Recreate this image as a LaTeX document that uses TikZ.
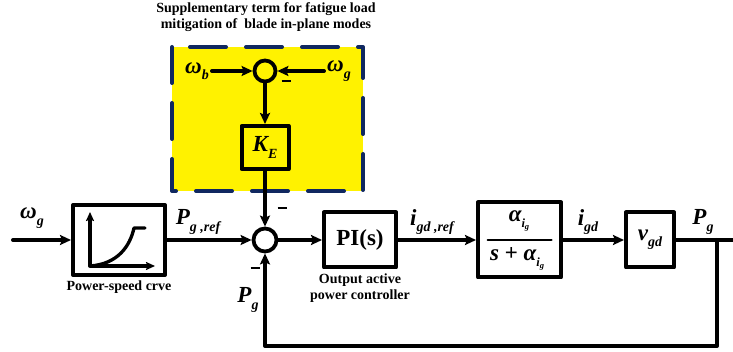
\documentclass[tikz,border=0pt]{standalone}
\usepackage{fontspec}
\setmainfont{Liberation Serif}
\usepackage{xcolor}
\usetikzlibrary{positioning,arrows.meta}
\definecolor{navyline}{RGB}{16,40,96}
\newcommand{\bi}[1]{\textbf{\textit{#1}}}
\newcommand{\sbx}[1]{\raisebox{-0.6ex}{\fontsize{14}{14}\selectfont\bi{#1}}}
\newcommand{\aig}{\bi{α}\raisebox{-0.55ex}{\fontsize{12.5}{12}\selectfont\bi{i}\raisebox{-0.45ex}{\fontsize{8.5}{8}\selectfont\bi{g}}}}
\begin{document}
\begin{tikzpicture}[x=1pt,y=-1pt,line join=round,line cap=round,>={Stealth[length=11pt,width=10pt,inset=2pt]},
		blk/.style={draw,line width=4pt,inner sep=0pt},
		junc/.style={draw,circle,line width=3.8pt,minimum size=21pt,inner sep=0pt},
		sig/.style={line width=4pt},
		lbl/.style={font=\fontsize{23}{24}\selectfont\bfseries\itshape,inner sep=0pt},
		capt/.style={font=\fontsize{14}{16}\selectfont\bfseries,align=center,inner sep=0pt},
		mns/.style={inner sep=0pt}]
			\useasboundingbox (0,0) rectangle (733,352);
			
			\fill[yellow] (172,47) rectangle (363,191);
			\draw[navyline,line width=4pt,dash pattern=on 36pt off 20pt] (172,47) rectangle (363,191);
			\node[capt] (title) at (266,17) {Supplementary term for fatigue load\\mitigation of~ blade in-plane modes};
			
			\node[junc] (sumB) at (265,71) {};
			\node[lbl] (wb) at (197,71) {ω\sbx{b}};
			\node[lbl] (wgB) at (339,71) {ω\sbx{g}};
			\node[mns] (mB) at (286,81) {\rule{9pt}{2.8pt}};
			\node[blk,lbl,minimum width=47pt,minimum height=43pt] (ke) at (265,147.5) {K\sbx{E}};
			
			\draw[sig,->,shorten <=3pt] (wb) -- (sumB);
			\draw[sig,->,shorten <=3pt] (wgB) -- (sumB);
			\draw[sig,->] (sumB) -- (ke);
			
			\coordinate (in) at (13,240);
			\node[blk,minimum width=92pt,minimum height=70pt] (psc) at (119,240) {};
			\node[capt,below=4pt of psc] (psclbl) {Power-speed crve};
			\node[junc,minimum size=23pt] (sumA) at (265,240) {};
			\node[blk,font=\fontsize{23}{24}\selectfont\bfseries,minimum width=72pt,minimum height=55pt] (pi) at (360,240) {PI(s)};
			\node[capt,below=4pt of pi] (pilbl) {Output active\\power controller};
			\node[blk,minimum width=83pt,minimum height=75pt] (tf) at (519.5,240) {};
			\node[lbl] (tfnum) at (519,221) {\aig};
			\node[lbl] (tfden) at (517,259) {s + \aig};
			\node[blk,lbl,minimum width=48pt,minimum height=55pt] (vgd) at (650,240) {v\sbx{gd}};
			\coordinate (tap) at (717,240);
			\coordinate (out) at (733,240);
			\coordinate (fbR) at (717,346);
			\coordinate (fbL) at (265,346);
			
			\draw[line width=2pt] ([xshift=-32pt]tf.center) -- ([xshift=32pt]tf.center);
			\draw[line width=3.3pt,<->,>={Stealth[length=9pt,width=8pt,inset=1.5pt]}] (90,212) -- (90,266) -- (155,266);
			\draw[line width=3.3pt] (90,266) .. controls (118,264) and (130,246) .. (134,228) -- (145,228);
			
			\node[lbl] (lwg) at (32,218) {ω\sbx{g}};
			\node[lbl] (lpref) at (198,222) {P\sbx{g ,ref}};
			\node[lbl] (liref) at (432,222) {i\sbx{gd ,ref}};
			\node[lbl] (ligd) at (588,222) {i\sbx{gd}};
			\node[lbl] (lpg) at (703,222) {P\sbx{g}};
			\node[lbl] (lpgfb) at (248,300) {P\sbx{g}};
			\node[mns] (mA1) at (282,208) {\rule{9pt}{2.8pt}};
			\node[mns] (mA2) at (255,268) {\rule{9pt}{2.8pt}};
			
			\draw[sig,->] (ke) -- (sumA);
			\draw[sig,->] (in) -- (psc);
			\draw[sig,->] (psc) -- (sumA);
			\draw[sig,->] (sumA) -- (pi);
			\draw[sig,->] (pi) -- (tf);
			\draw[sig,->] (tf) -- (vgd);
			\draw[sig] (vgd) -- (out);
			\draw[sig,->] (tap) -- (fbR) -- (fbL) -- (sumA);
		\end{tikzpicture}
\end{document}
